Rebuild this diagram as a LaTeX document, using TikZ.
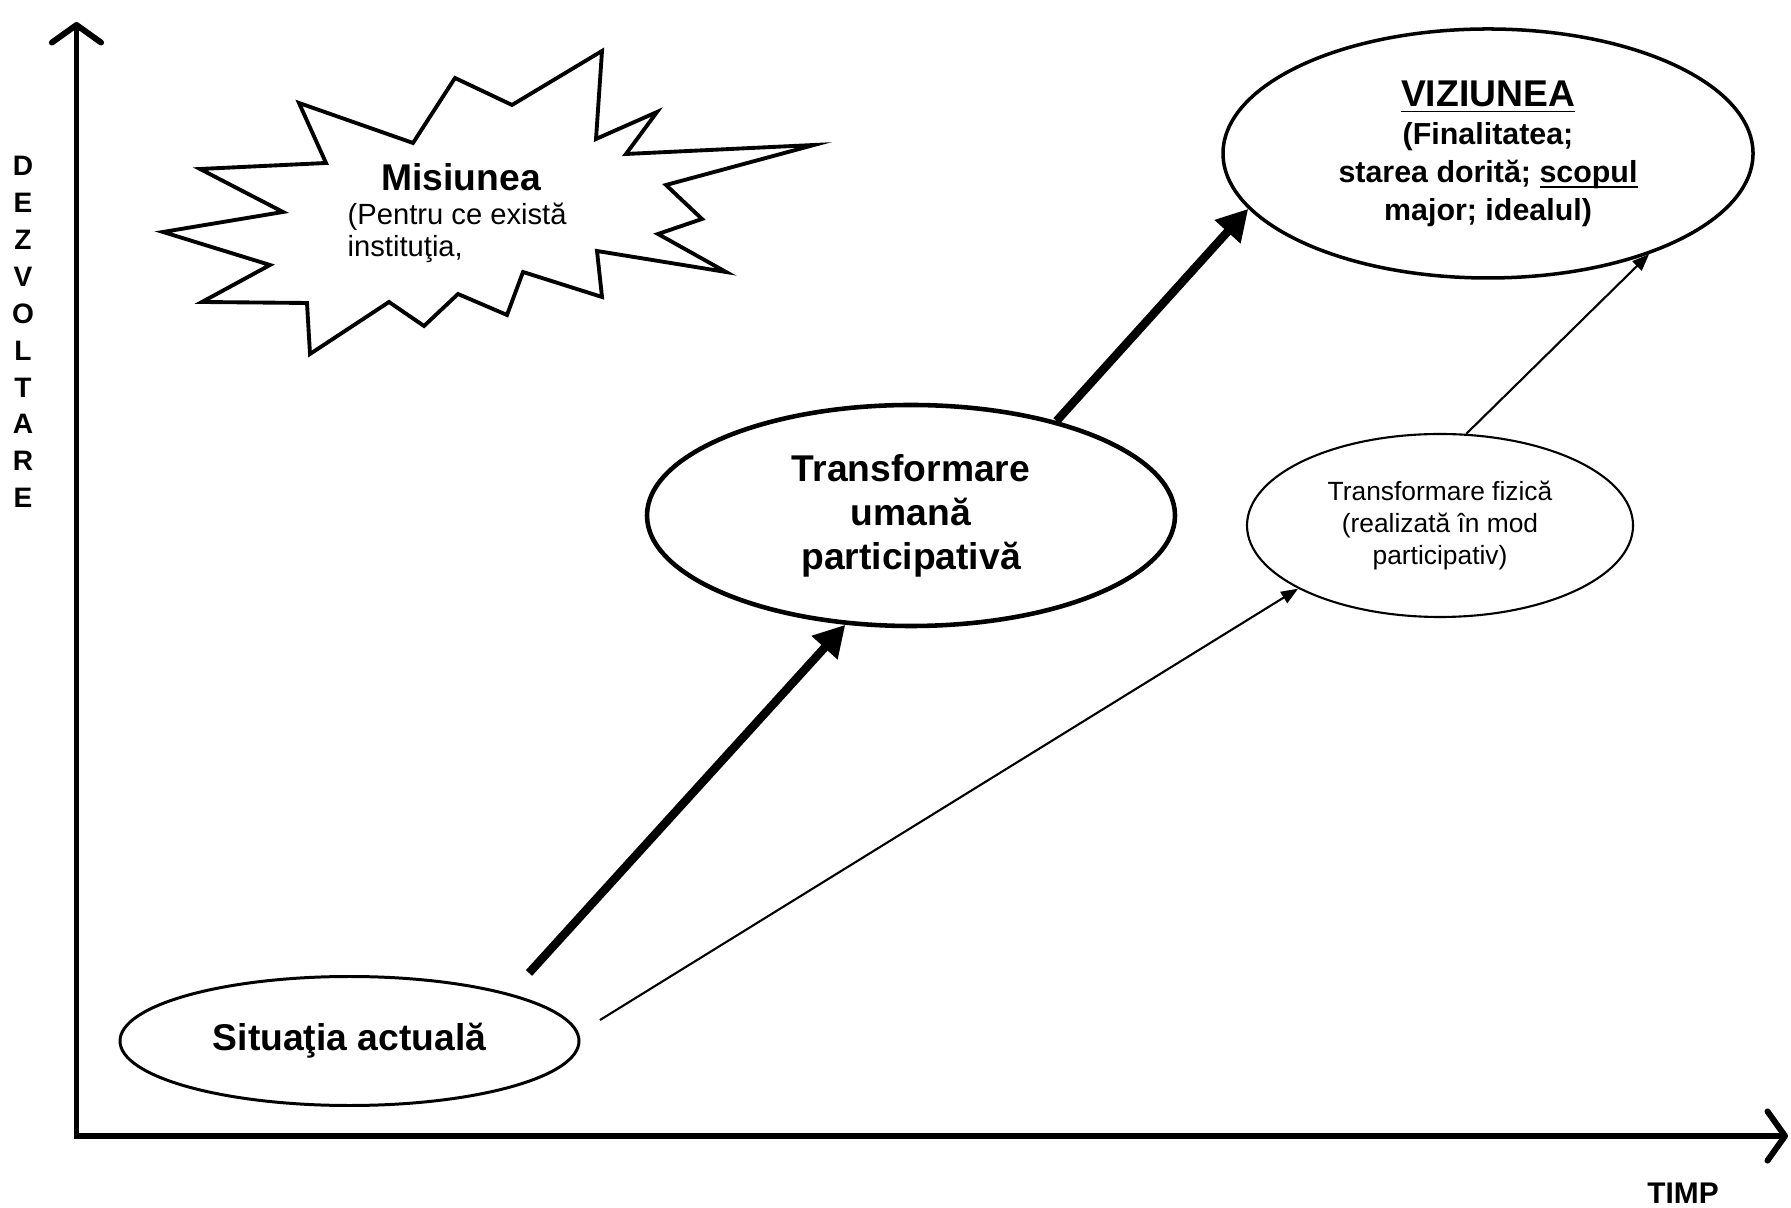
\documentclass[tikz,border=0pt]{standalone}
\usepackage{fontspec}
\setmainfont{Liberation Sans}
\usetikzlibrary{shapes.geometric,arrows.meta}

\begin{document}
\begin{tikzpicture}[
  oval/.style={draw,ellipse,inner sep=0pt,align=center},
  axisline/.style={line width=1.7pt,{Straight Barb[length=5pt,width=14pt,line cap=round,line join=round]}-{Straight Barb[length=5pt,width=14pt,line cap=round,line join=round]}},
  bigarrow/.style={line width=2.4pt,-{Triangle[length=0.31cm,width=0.33cm]}},
  thinarrow/.style={line width=0.6pt,-{Triangle[length=0.17cm,width=0.13cm]}}
]
\useasboundingbox (0,0) rectangle (17.91,12.07);

\coordinate (o) at (0.765,0.71);
\coordinate (ytop) at (0.765,11.85);
\coordinate (xend) at (17.88,0.71);
\draw[axisline] (ytop)--(o)--(xend);
\node (dezv) at (0.23,8.75) [align=center,font=\fontsize{8}{10.5}\selectfont\bfseries] {D\\E\\Z\\V\\O\\L\\T\\A\\R\\E};
\node (timp) at (16.83,0.14) [font=\fontsize{8.5}{10}\selectfont\bfseries] {TIMP};

% misiunea
\draw[line width=1.1pt] (1.63,9.75)--(2.83,9.95)--(2.00,10.38)--(3.26,10.44)--(2.99,11.04)--(4.13,10.64)--(4.55,11.29)--(5.12,11.02)--(6.02,11.56)--(5.96,10.68)--(6.57,10.95)--(6.26,10.53)--(8.14,10.62)--(6.66,10.22)--(7.02,9.88)--(6.58,9.73)--(7.26,9.35)--(5.97,9.56)--(6.02,9.10)--(5.23,9.35)--(5.07,8.92)--(4.58,9.13)--(4.24,8.81)--(3.89,9.05)--(3.10,8.53)--(3.07,9.04)--(2.02,9.05)--(2.70,9.42)--cycle;
\node (mis) at (4.61,10.30) [font=\fontsize{10.6}{12.5}\selectfont\bfseries] {Misiunea};
\node (misdesc) at (3.47,9.74) [anchor=west,inner sep=0pt,align=left,font=\fontsize{8.3}{9.1}\selectfont] {(Pentru ce există\\instituţia,};

\node[oval,line width=0.85pt,minimum width=4.59cm,minimum height=1.29cm,font=\fontsize{10.6}{12.5}\selectfont\bfseries] (sit) at (3.495,1.66) {Situaţia actuală};
\node[oval,line width=1.3pt,minimum width=5.28cm,minimum height=2.21cm,font=\fontsize{10.6}{12.5}\selectfont\bfseries] (uman) at (9.11,6.915) {Transformare\\umană\\participativă};
\node[oval,line width=1pt,minimum width=5.30cm,minimum height=2.49cm,font=\fontsize{8.65}{10.8}\selectfont\bfseries] (viz) at (14.88,10.535) {{\fontsize{10.6}{10.8}\selectfont\underline{VIZIUNEA}}\\(Finalitatea;\\starea dorită; \underline{\smash{scopul}}\\major; idealul)};
\node[oval,line width=0.6pt,minimum width=3.86cm,minimum height=1.83cm,font=\fontsize{7.5}{9}\selectfont] (fiz) at (14.40,6.815) {Transformare fizică\\(realizată în mod\\participativ)};

\coordinate (s1) at (5.29,2.34);
\coordinate (s2) at (6.00,1.87);
\draw[bigarrow] (s1) -- (uman.-121);
\draw[bigarrow] (uman.33) -- (viz.193);
\draw[thinarrow] (s2) -- (fiz.204);
\draw[thinarrow] (fiz.74) -- (viz.-32);
\end{tikzpicture}
\end{document}
